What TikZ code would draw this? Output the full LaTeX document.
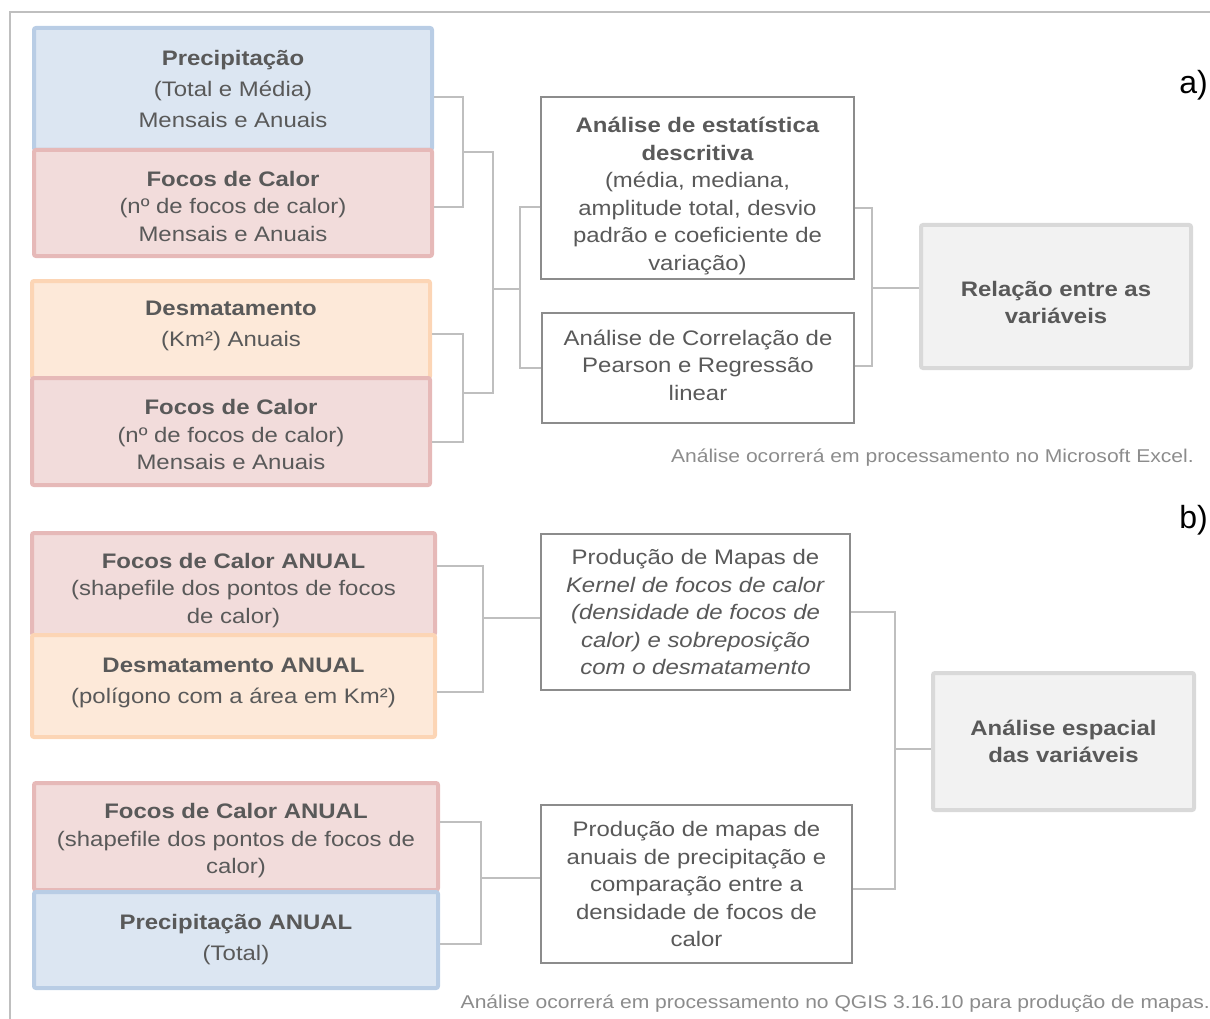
\documentclass[tikz,border=0pt]{standalone}
\usepackage{fontspec}
\setmainfont{Liberation Sans}[FakeStretch=1.14]
\newfontfamily\rotulofont{Liberation Sans}
\definecolor{texto}{HTML}{595959}
\definecolor{azulF}{HTML}{DCE6F2}
\definecolor{azulB}{HTML}{B9CDE5}
\definecolor{rosaF}{HTML}{F2DCDB}
\definecolor{rosaB}{HTML}{E6B9B8}
\definecolor{laranjaF}{HTML}{FDE9D9}
\definecolor{laranjaB}{HTML}{FCD5B5}
\definecolor{cinzaF}{HTML}{F2F2F2}
\definecolor{cinzaB}{HTML}{D9D9D9}
\definecolor{linha}{HTML}{BFBFBF}
\definecolor{borda}{HTML}{8C8C8C}
\begin{document}
\begin{tikzpicture}[x=1pt, y=-1pt,
  caixa/.style={line width=4pt, rounded corners=2pt, inner sep=0pt, align=center, text=texto, font=\fontsize{21}{27.5}\selectfont},
  chuva/.style={caixa, draw=azulB, fill=azulF},
  fogo/.style={caixa, draw=rosaB, fill=rosaF},
  desmate/.style={caixa, draw=laranjaB, fill=laranjaF},
  resultado/.style={caixa, draw=cinzaB, fill=cinzaF},
  metodo/.style={caixa, line width=1.5pt, rounded corners=0pt, draw=borda, fill=white},
  liga/.style={draw=linha, line width=1.5pt},
  nota/.style={inner sep=0pt, anchor=east, text=borda, font=\fontsize{18.5}{22}\selectfont},
  rotulo/.style={inner sep=0pt, anchor=east, font=\rotulofont\fontsize{32}{36}\selectfont}]
  \useasboundingbox (0,0) rectangle (1210,1019);
  \draw[linha, line width=2pt] (1210,12) -- (10,12) -- (10,1019);

  % Parte a)
  \node[chuva, minimum width=398pt, minimum height=122pt] (prec) at (233,89)
    {\textbf{Precipitação}\\[3.5pt] (Total e Média)\\[3.5pt] Mensais e Anuais};
  \node[fogo, minimum width=398pt, minimum height=106pt] (focos1) at (233,203)
    {\rule{0pt}{21.5pt}\textbf{Focos de Calor}\\ (nº de focos de calor)\\ Mensais e Anuais};
  \node[desmate, minimum width=398pt, minimum height=97pt] (desm) at (231,329.5)
    {\textbf{Desmatamento}\\[3.5pt] (Km²) Anuais\rule[-10.5pt]{0pt}{0pt}};
  \node[fogo, minimum width=398pt, minimum height=107pt] (focos2) at (231,431.5)
    {\rule{0pt}{21.5pt}\textbf{Focos de Calor}\\ (nº de focos de calor)\\ Mensais e Anuais};
  \node[metodo, minimum width=313pt, minimum height=182pt] (estat) at (697.5,188)
    {\rule{0pt}{31pt}\textbf{Análise de estatística}\\ \textbf{descritiva}\\ (média, mediana,\\ amplitude total, desvio\\ padrão e coeficiente de\\ variação)};
  \node[metodo, minimum width=312pt, minimum height=110pt] (correl) at (698,368)
    {Análise de Correlação de\\ Pearson e Regressão\\ linear\rule[-6pt]{0pt}{0pt}};
  \node[resultado, minimum width=270pt, minimum height=143pt] (relacao) at (1056,296.5)
    {\rule{0pt}{27.5pt}\textbf{Relação entre as}\\ \textbf{variáveis}};
  \node[nota] (notaA) at (1194,458) {Análise ocorrerá em processamento no Microsoft Excel.};
  \node[rotulo] (rotA) at (1208,85) {a)};

  \coordinate (ja1) at (463,152);
  \coordinate (ja2) at (463,393);
  \coordinate (jb) at (493,289);
  \coordinate (jc) at (520,289);
  \coordinate (jd) at (872,288);
  \draw[liga] ([yshift=-8pt]prec.east) -| (ja1) |- ([yshift=-4pt]focos1.east);
  \draw[liga] ([yshift=-4.5pt]desm.east) -| (ja2) |- ([yshift=-10.5pt]focos2.east);
  \draw[liga] (ja1) -| (jb) |- (ja2);
  \draw[liga] (jb) -- (jc);
  \draw[liga] ([yshift=-19pt]estat.west) -| (jc) |- (correl.west);
  \draw[liga] ([yshift=-20pt]estat.east) -| (jd) |- ([yshift=2pt]correl.east);
  \draw[liga] (jd) -- (relacao.west |- jd);

  % Parte b)
  \node[fogo, minimum width=403pt, minimum height=102pt] (focosA1) at (233.5,584)
    {\rule{0pt}{27.5pt}\textbf{Focos de Calor ANUAL}\\ (shapefile dos pontos de focos\\ de calor)};
  \node[desmate, minimum width=403pt, minimum height=102pt] (desmA) at (233.5,686)
    {\textbf{Desmatamento ANUAL}\\[4pt] (polígono com a área em Km²)\rule[-10.5pt]{0pt}{0pt}};
  \node[fogo, minimum width=404pt, minimum height=107pt] (focosA2) at (236,836.5)
    {\rule{0pt}{23.5pt}\textbf{Focos de Calor ANUAL}\\ (shapefile dos pontos de focos de\\ calor)};
  \node[chuva, minimum width=404pt, minimum height=96pt] (precA) at (236,940)
    {\textbf{Precipitação ANUAL}\\[3.5pt] (Total)};
  \node[metodo, minimum width=309pt, minimum height=156pt] (kernel) at (695.5,612)
    {Produção de Mapas de\\ \textit{Kernel de focos de calor}\\ \textit{(densidade de focos de}\\ \textit{calor) e sobreposição}\\ \textit{com o desmatamento}};
  \node[metodo, minimum width=311pt, minimum height=158pt] (mapas) at (696.5,884)
    {Produção de mapas de\\ anuais de precipitação e\\ comparação entre a\\ densidade de focos de\\ calor};
  \node[resultado, minimum width=261pt, minimum height=137pt] (espacial) at (1063.5,741.5)
    {\textbf{Análise espacial}\\ \textbf{das variáveis}};
  \node[nota] (notaB) at (1210,1004) {Análise ocorrerá em processamento no QGIS 3.16.10 para produção de mapas.};
  \node[rotulo] (rotB) at (1208,520) {b)};

  \coordinate (jk) at (483,618);
  \coordinate (jm) at (481,878);
  \coordinate (je) at (895,749);
  \draw[liga] ([yshift=18pt]focosA1.east) -| (jk) |- ([yshift=-6pt]desmA.east);
  \draw[liga] (jk) -- (kernel.west |- jk);
  \draw[liga] ([yshift=14.5pt]focosA2.east) -| (jm) |- ([yshift=-4pt]precA.east);
  \draw[liga] (jm) -- (mapas.west |- jm);
  \draw[liga] (kernel.east) -| (je) |- ([yshift=-5pt]mapas.east);
  \draw[liga] (je) -- (espacial.west |- je);
\end{tikzpicture}
\end{document}
